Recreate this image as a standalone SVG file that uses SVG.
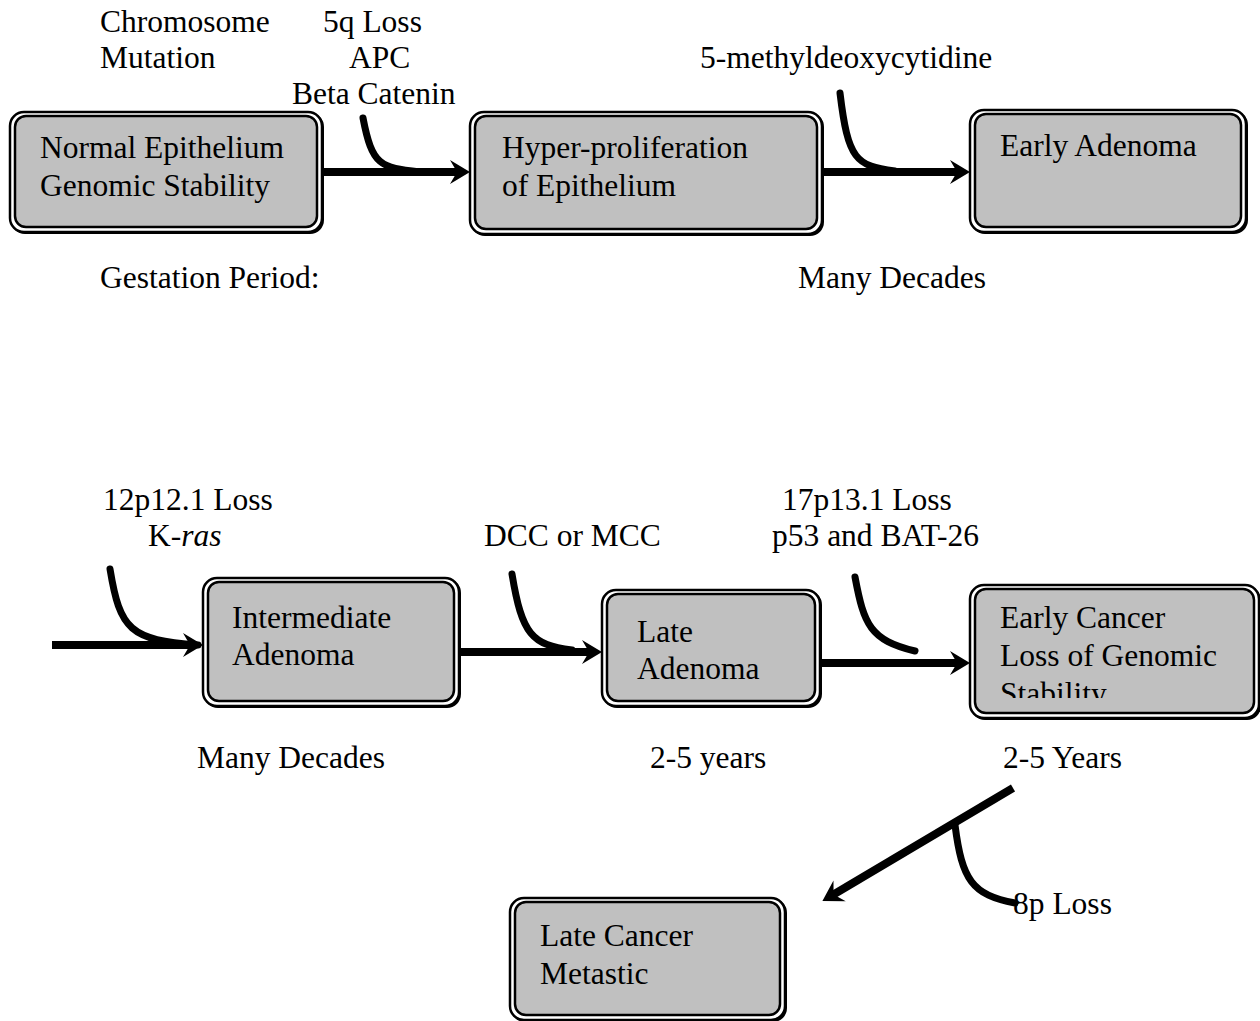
<svg xmlns="http://www.w3.org/2000/svg" width="1260" height="1021" viewBox="0 0 1260 1021">
<style>
text{font-family:"Liberation Serif","Times New Roman",serif;font-size:31.5px;fill:#000}
.outer{fill:#fff;stroke:#000;stroke-width:2.5}
.shadow{fill:#000}
.inner{fill:#c0c0c0;stroke:#000;stroke-width:2.5}
.conn{fill:none;stroke:#000;stroke-width:8}
.curve{fill:none;stroke:#000;stroke-width:7;stroke-linecap:round}
</style>
<defs>
<marker id="ah" markerUnits="userSpaceOnUse" markerWidth="30" markerHeight="30" refX="0" refY="0" orient="auto" overflow="visible">
<path d="M10,0 L-10,-12 L-3,0 L-10,12 Z" fill="#000"/>
</marker>
<clipPath id="clipEC"><rect x="975" y="590" width="280" height="108"/></clipPath>
</defs>

<g id="labels">
<text x="100" y="32">Chromosome</text>
<text x="100" y="68">Mutation</text>
<text x="323" y="32">5q Loss</text>
<text x="349" y="68">APC</text>
<text x="292" y="104">Beta Catenin</text>
<text x="700" y="68">5-methyldeoxycytidine</text>
<text x="100" y="288">Gestation Period:</text>
<text x="798" y="288">Many Decades</text>
<text x="103" y="510">12p12.1 Loss</text>
<text x="148" y="546">K-<tspan font-style="italic">ras</tspan></text>
<text x="484" y="546">DCC or MCC</text>
<text x="782" y="510">17p13.1 Loss</text>
<text x="772" y="546">p53 and BAT-26</text>
<text x="197" y="768">Many Decades</text>
<text x="650" y="768">2-5 years</text>
<text x="1003" y="768">2-5 Years</text>
</g>

<g id="connectors">
<path class="conn" d="M322,172 L460,172" marker-end="url(#ah)"/>
<path class="curve" d="M363,118 C372,165 380,168 420,172"/>
<path class="conn" d="M822,172 L960,172" marker-end="url(#ah)"/>
<path class="curve" d="M840,93 C848,160 856,166 895,171"/>
<path class="conn" d="M52,645 L193,645" marker-end="url(#ah)"/>
<path class="curve" d="M110,569 C120,630 130,640 198,645"/>
<path class="conn" d="M459,652 L592,652" marker-end="url(#ah)"/>
<path class="curve" d="M512,574 C522,635 532,645 572,650"/>
<path class="conn" d="M820,663 L960,663" marker-end="url(#ah)"/>
<path class="curve" d="M855,577 C864,625 870,640 915,651"/>
<path class="conn" d="M1013,788 L831,896" marker-end="url(#ah)"/>
<path class="curve" d="M955,825 C962,880 972,895 1015,903"/>
<text x="1013" y="914">8p Loss</text>
</g>

<g id="normal-epithelium">
<rect class="shadow" x="11" y="113" width="313" height="121" rx="14"/>
<rect class="outer" x="10" y="112" width="312" height="120" rx="14"/>
<rect class="inner" x="15" y="116" width="302" height="111" rx="11"/>
<text x="40" y="158">Normal Epithelium</text>
<text x="40" y="196">Genomic Stability</text>
</g>

<g id="hyper-proliferation">
<rect class="shadow" x="471" y="113" width="353" height="123" rx="14"/>
<rect class="outer" x="470" y="112" width="352" height="122" rx="14"/>
<rect class="inner" x="475" y="116" width="342" height="113" rx="11"/>
<text x="502" y="158">Hyper-proliferation</text>
<text x="502" y="196">of Epithelium</text>
</g>

<g id="early-adenoma">
<rect class="shadow" x="971" y="111" width="277" height="123" rx="14"/>
<rect class="outer" x="970" y="110" width="276" height="122" rx="14"/>
<rect class="inner" x="975" y="114" width="266" height="113" rx="11"/>
<text x="1000" y="156">Early Adenoma</text>
</g>

<g id="intermediate-adenoma">
<rect class="shadow" x="204" y="579" width="257" height="129" rx="14"/>
<rect class="outer" x="203" y="578" width="256" height="128" rx="14"/>
<rect class="inner" x="208" y="582" width="246" height="119" rx="11"/>
<text x="232" y="628">Intermediate</text>
<text x="232" y="665">Adenoma</text>
</g>

<g id="late-adenoma">
<rect class="shadow" x="603" y="591" width="219" height="117" rx="14"/>
<rect class="outer" x="602" y="590" width="218" height="116" rx="14"/>
<rect class="inner" x="607" y="594" width="208" height="107" rx="11"/>
<text x="637" y="642">Late</text>
<text x="637" y="679">Adenoma</text>
</g>

<g id="early-cancer">
<rect class="shadow" x="971" y="586" width="290" height="134" rx="14"/>
<rect class="outer" x="970" y="585" width="289" height="133" rx="14"/>
<rect class="inner" x="975" y="589" width="279" height="124" rx="11"/>
<text x="1000" y="628">Early Cancer</text>
<text x="1000" y="666">Loss of Genomic</text>
<text x="1000" y="704" clip-path="url(#clipEC)">Stability</text>
</g>

<g id="late-cancer">
<rect class="shadow" x="511" y="899" width="276" height="123" rx="14"/>
<rect class="outer" x="510" y="898" width="275" height="122" rx="14"/>
<rect class="inner" x="515" y="902" width="265" height="113" rx="11"/>
<text x="540" y="946">Late Cancer</text>
<text x="540" y="984">Metastic</text>
</g>
</svg>
